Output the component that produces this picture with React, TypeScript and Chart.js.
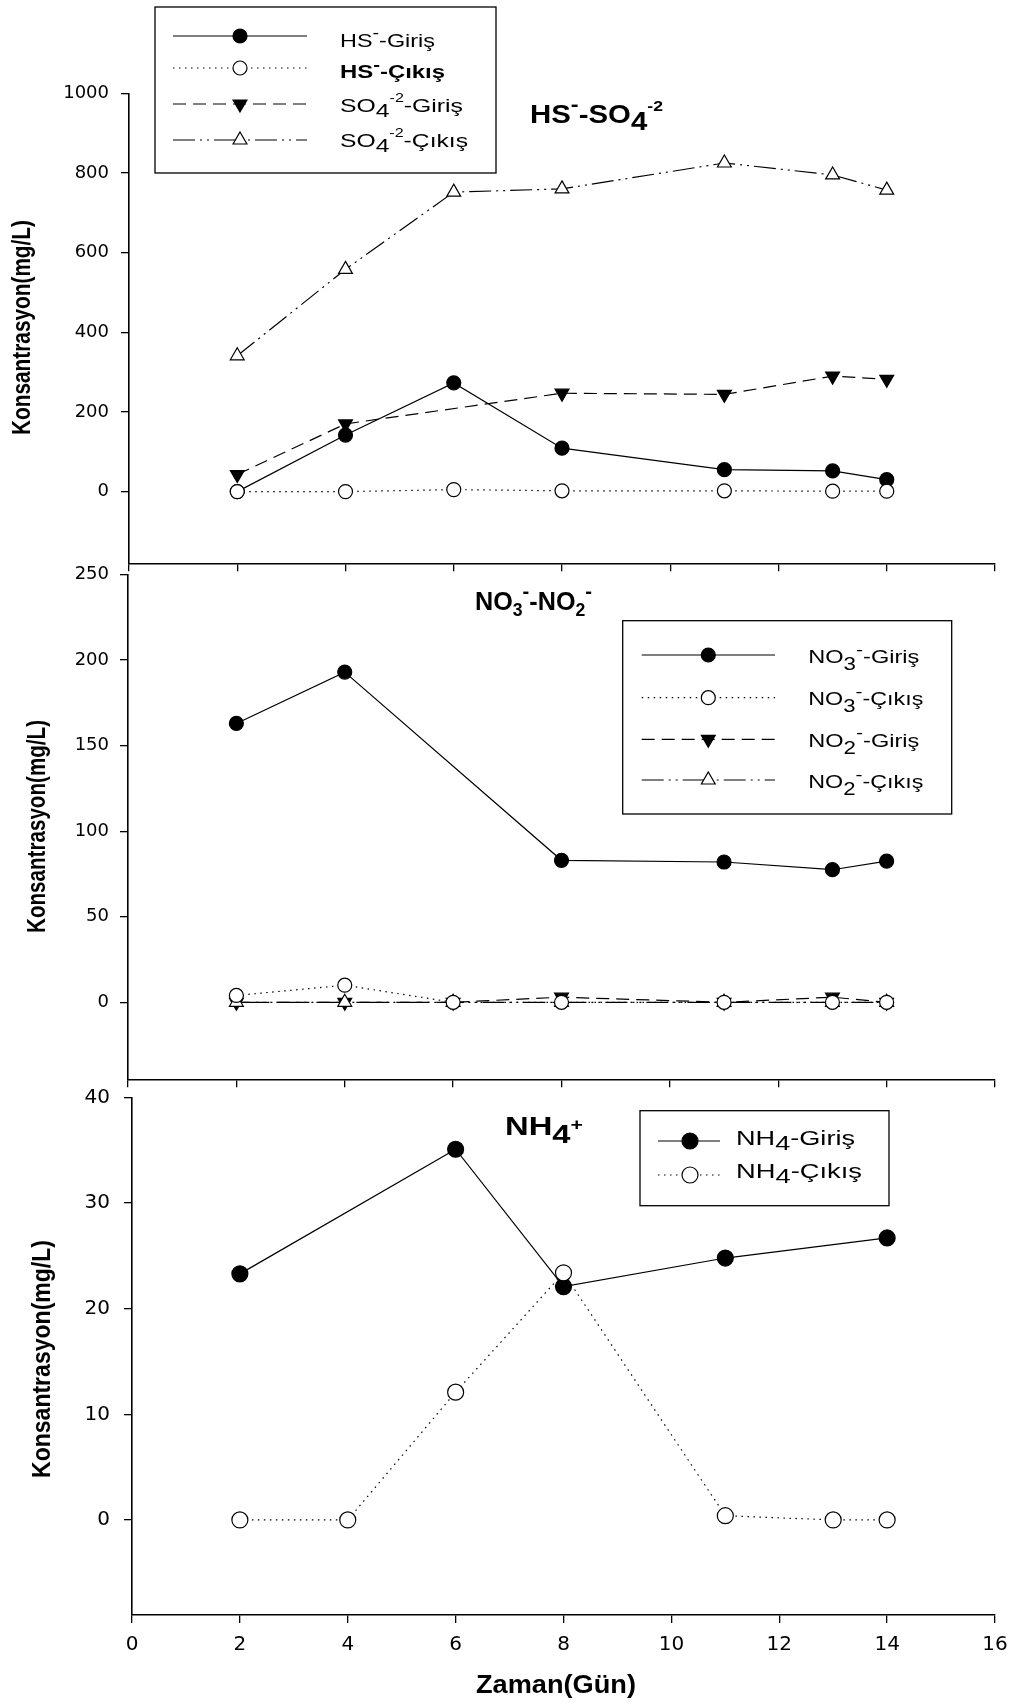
import React, { useEffect, useRef } from 'react';
import { Chart, registerables } from 'chart.js';

Chart.register(...registerables);

// ---------------- data ----------------
const days = [2, 4, 6, 8, 11, 13, 14];

const hsGiris = [0, 142, 273, 109, 55, 52, 30];
const hsCikis = [0, 0, 5, 2, 2, 1, 1];
const so4Giris: (number | null)[] = [43, 170, null, 247, 244, 290, 282];
const so4Cikis = [341, 558, 752, 760, 825, 795, 757];

const no3Giris: (number | null)[] = [163, 193, null, 83, 82, 77.5, 82.5];
const no3Cikis = [4, 10, 0, 0, 0, 0, 0];
const no2Giris = [0, 0, 0, 3, 0, 3, 0];
const no2Cikis = [0, 0, 0, 0, 0, 0, 0];

const nh4GirisDays = [2, 6, 8, 11, 14];
const nh4Giris = [23.3, 35.1, 22.1, 24.8, 26.7];
const nh4CikisDays = [2, 4, 6, 8, 11, 13, 14];
const nh4Cikis = [0, 0, 12.1, 23.4, 0.4, 0, 0];

const xTickValues = [0, 2, 4, 6, 8, 10, 12, 14, 16];
const hsTickValues = [0, 200, 400, 600, 800, 1000];
const noTickValues = [0, 50, 100, 150, 200, 250];
const nhTickValues = [0, 10, 20, 30, 40];

const hsRange = [-180, 1000];
const noRange = [-45, 250];
const nhRange = [-9, 40];

const yTitle = 'Konsantrasyon(mg/L)';
const xTitle = 'Zaman(Gün)';

type Seg = { t: string; s?: number; dy?: number };

const hsTitle: Seg[] = [{ t: 'HS' }, { t: '-', s: 0.8, dy: -0.46 }, { t: '-SO' }, { t: '4', dy: 0.28 }, { t: '-2', s: 0.6, dy: -0.45 }];
const noTitle: Seg[] = [{ t: 'NO' }, { t: '3', s: 0.7, dy: 0.25 }, { t: '-', s: 0.8, dy: -0.46 }, { t: '-NO' }, { t: '2', s: 0.7, dy: 0.25 }, { t: '-', s: 0.8, dy: -0.46 }];
const nhTitle: Seg[] = [{ t: 'NH' }, { t: '4', dy: 0.32 }, { t: '+', s: 0.65, dy: -0.22 }];

const hsLegend: Seg[][] = [
  [{ t: 'HS' }, { t: '-', s: 0.85, dy: -0.44 }, { t: '-Giriş' }],
  [{ t: 'HS' }, { t: '-', s: 0.85, dy: -0.44 }, { t: '-Çıkış' }],
  [{ t: 'SO' }, { t: '4', dy: 0.27 }, { t: '-2', s: 0.65, dy: -0.52 }, { t: '-Giriş' }],
  [{ t: 'SO' }, { t: '4', dy: 0.27 }, { t: '-2', s: 0.65, dy: -0.52 }, { t: '-Çıkış' }],
];
const noLegend: Seg[][] = [
  [{ t: 'NO' }, { t: '3', s: 0.95, dy: 0.39 }, { t: '-', s: 0.9, dy: -0.44 }, { t: '-Giriş' }],
  [{ t: 'NO' }, { t: '3', s: 0.95, dy: 0.39 }, { t: '-', s: 0.9, dy: -0.44 }, { t: '-Çıkış' }],
  [{ t: 'NO' }, { t: '2', s: 0.95, dy: 0.39 }, { t: '-', s: 0.9, dy: -0.44 }, { t: '-Giriş' }],
  [{ t: 'NO' }, { t: '2', s: 0.95, dy: 0.39 }, { t: '-', s: 0.9, dy: -0.44 }, { t: '-Çıkış' }],
];
const nhLegend: Seg[][] = [
  [{ t: 'NH' }, { t: '4', dy: 0.24 }, { t: '-Giriş' }],
  [{ t: 'NH' }, { t: '4', dy: 0.24 }, { t: '-Çıkış' }],
];

// ---------------- styles ----------------
type St = { shape: 'circle' | 'up' | 'down'; fill: string; dash: number[] };
const ST: Record<string, St> = {
  giris: { shape: 'circle', fill: '#000', dash: [] },
  cikis: { shape: 'circle', fill: '#fff', dash: [1.5, 4.5] },
  giris2: { shape: 'down', fill: '#000', dash: [13, 7] },
  cikis2: { shape: 'up', fill: '#fff', dash: [22, 5, 2, 5, 2, 5] },
};

const FAM = '"Liberation Sans", Arial, sans-serif';
const TICKFAM = '"DejaVu Sans", sans-serif';

function segFont(size: number, weight: string, s?: number) {
  return `${weight} ${size * (s ?? 1)}px ${FAM}`;
}

function drawRich(
  ctx: CanvasRenderingContext2D,
  segs: Seg[],
  x: number,
  y: number,
  size: number,
  opts: { weight?: string; width?: number; align?: 'left' | 'center'; rotate?: boolean } = {}
) {
  const weight = opts.weight ?? 'normal';
  ctx.save();
  let natural = 0;
  const widths = segs.map((sg) => {
    ctx.font = segFont(size, weight, sg.s);
    const w = ctx.measureText(sg.t).width;
    natural += w;
    return w;
  });
  const sx = opts.width ? opts.width / natural : 1;
  ctx.translate(x, y);
  if (opts.rotate) ctx.rotate(-Math.PI / 2);
  ctx.scale(sx, 1);
  let cx = opts.align === 'center' ? -natural / 2 : 0;
  ctx.fillStyle = '#000';
  ctx.textBaseline = 'alphabetic';
  ctx.textAlign = 'left';
  segs.forEach((sg, i) => {
    ctx.font = segFont(size, weight, sg.s);
    ctx.fillText(sg.t, cx, (sg.dy ?? 0) * size);
    cx += widths[i];
  });
  ctx.restore();
}

function drawMarker(ctx: CanvasRenderingContext2D, st: St, x: number, y: number, r: number) {
  ctx.beginPath();
  if (st.shape === 'circle') {
    ctx.arc(x, y, r, 0, Math.PI * 2);
  } else {
    const d = st.shape === 'down' ? -1 : 1;
    ctx.moveTo(x, y - d * r);
    ctx.lineTo(x + 0.866 * r, y + d * 0.5 * r);
    ctx.lineTo(x - 0.866 * r, y + d * 0.5 * r);
    ctx.closePath();
  }
  ctx.setLineDash([]);
  ctx.fillStyle = st.fill;
  ctx.fill();
  ctx.lineWidth = 1.2;
  ctx.strokeStyle = '#000';
  ctx.stroke();
}

function drawLegend(
  ctx: CanvasRenderingContext2D,
  box: [number, number, number, number],
  rows: { st: St; y: number; base: number; segs: Seg[]; width: number; weight?: string }[],
  line: [number, number, number],
  textX: number,
  size: number,
  circleR: number
) {
  ctx.save();
  ctx.setLineDash([]);
  ctx.lineWidth = 1.3;
  ctx.strokeStyle = '#000';
  ctx.strokeRect(box[0], box[1], box[2] - box[0], box[3] - box[1]);
  rows.forEach((r) => {
    ctx.beginPath();
    ctx.setLineDash(r.st.dash);
    ctx.lineWidth = 1.2;
    ctx.strokeStyle = '#000';
    ctx.moveTo(line[0], r.y);
    ctx.lineTo(line[1], r.y);
    ctx.stroke();
    drawMarker(ctx, r.st, line[2], r.y, r.st.shape === 'circle' ? circleR : 8);
    drawRich(ctx, r.segs, textX, r.base, size, { width: r.width, weight: r.weight });
  });
  ctx.restore();
}

function series(xs: number[], ys: (number | null)[], st: St, r: number, order: number) {
  return {
    data: xs.map((x, i) => ({ x, y: ys[i] })),
    borderColor: '#000',
    borderWidth: 1.2,
    borderDash: st.dash,
    pointStyle: st.shape === 'circle' ? 'circle' : 'triangle',
    pointRotation: st.shape === 'down' ? 180 : 0,
    pointRadius: st.shape === 'circle' ? r : 8,
    pointBackgroundColor: st.fill,
    pointBorderColor: '#000',
    pointBorderWidth: 1.2,
    spanGaps: true,
    tension: 0,
    fill: false,
    order,
  };
}

type PanelDef = {
  top: number;
  height: number;
  left: number;
  chartTop: number;
  xHeight: number;
  showX: boolean;
  range: number[];
  yTicks: number[];
  yFont: number;
  yPad: number;
  datasets: any[];
  overlay: (ctx: CanvasRenderingContext2D) => void;
};

function makeConfig(p: PanelDef): any {
  const gridOpts = { drawOnChartArea: false, drawTicks: true, tickLength: 8, color: '#000', lineWidth: 1.3 };
  const borderOpts = { display: true, color: '#000', width: 1.6 };
  return {
    type: 'line',
    data: { datasets: p.datasets },
    options: {
      responsive: false,
      animation: false,
      events: [],
      layout: { padding: { top: p.chartTop, right: 23, bottom: 0, left: 0 } },
      plugins: { legend: { display: false }, tooltip: { enabled: false }, title: { display: false } },
      scales: {
        x: {
          type: 'linear',
          min: 0,
          max: 16,
          afterBuildTicks: (a: any) => {
            a.ticks = xTickValues.map((v) => ({ value: v }));
          },
          afterFit: (s: any) => {
            s.height = p.xHeight;
            s.paddingLeft = 0;
            s.paddingRight = 0;
            s.paddingTop = 0;
            s.paddingBottom = 0;
          },
          grid: gridOpts,
          border: borderOpts,
          ticks: {
            display: p.showX,
            color: '#000',
            font: { family: TICKFAM, size: 20 },
            padding: 10,
            maxRotation: 0,
            autoSkip: false,
            callback: (v: any) => String(v),
          },
        },
        y: {
          type: 'linear',
          min: p.range[0],
          max: p.range[1],
          afterBuildTicks: (a: any) => {
            a.ticks = p.yTicks.map((v) => ({ value: v }));
          },
          afterFit: (s: any) => {
            s.width = p.left;
            s.paddingLeft = 0;
            s.paddingRight = 0;
            s.paddingTop = 0;
            s.paddingBottom = 0;
          },
          grid: gridOpts,
          border: borderOpts,
          ticks: {
            color: '#000',
            font: { family: TICKFAM, size: p.yFont },
            padding: p.yPad,
            autoSkip: false,
            callback: (v: any) => String(v),
          },
        },
      },
    },
    plugins: [
      {
        id: 'overlay' + p.top,
        afterDraw(chart: any) {
          const ctx = chart.ctx as CanvasRenderingContext2D;
          ctx.save();
          ctx.translate(0, -p.top);
          p.overlay(ctx);
          ctx.restore();
        },
      },
    ],
  };
}

const panels: PanelDef[] = [
  {
    top: 0,
    height: 575,
    left: 129,
    chartTop: 93.3,
    xHeight: 11.7,
    showX: false,
    range: hsRange,
    yTicks: hsTickValues,
    yFont: 18,
    yPad: 12,
    datasets: [
      series(days, hsGiris, ST.giris, 7, 2),
      series(days, hsCikis, ST.cikis, 7, 1),
      series(days, so4Giris, ST.giris2, 7, 3),
      series(days, so4Cikis, ST.cikis2, 7, 4),
    ],
    overlay: (ctx) => {
      drawRich(ctx, [{ t: yTitle }], 30, 327.5, 25, { weight: 'bold', width: 215, align: 'center', rotate: true });
      drawRich(ctx, hsTitle, 530, 122.7, 25, { weight: 'bold', width: 133 });
      drawLegend(
        ctx,
        [155, 7, 496, 173],
        [
          { st: ST.giris, y: 36, base: 46.5, segs: hsLegend[0], width: 95 },
          { st: ST.cikis, y: 68, base: 78, segs: hsLegend[1], width: 105, weight: 'bold' },
          { st: ST.giris2, y: 104, base: 111.5, segs: hsLegend[2], width: 123 },
          { st: ST.cikis2, y: 140, base: 146.5, segs: hsLegend[3], width: 128 },
        ],
        [173, 307, 240],
        340,
        19,
        7
      );
    },
  },
  {
    top: 556,
    height: 535,
    left: 128,
    chartTop: 18.6,
    xHeight: 11.7,
    showX: false,
    range: noRange,
    yTicks: noTickValues,
    yFont: 18,
    yPad: 11,
    datasets: [
      series(days, no3Giris, ST.giris, 7, 4),
      series(days, no3Cikis, ST.cikis, 7, 1),
      series(days, no2Giris, ST.giris2, 7, 3),
      series(days, no2Cikis, ST.cikis2, 7, 2),
    ],
    overlay: (ctx) => {
      drawRich(ctx, [{ t: yTitle }], 44.5, 826.5, 25, { weight: 'bold', width: 213, align: 'center', rotate: true });
      drawRich(ctx, noTitle, 475, 609.5, 25, { weight: 'bold', width: 117 });
      drawLegend(
        ctx,
        [622.7, 620.7, 951.7, 814],
        [
          { st: ST.giris, y: 655, base: 663, segs: noLegend[0], width: 111 },
          { st: ST.cikis, y: 697.7, base: 705, segs: noLegend[1], width: 115 },
          { st: ST.giris2, y: 739.3, base: 746.7, segs: noLegend[2], width: 111 },
          { st: ST.cikis2, y: 780, base: 788, segs: noLegend[3], width: 115 },
        ],
        [641.7, 775, 708.3],
        808.3,
        19,
        7
      );
    },
  },
  {
    top: 1076,
    height: 628,
    left: 132,
    chartTop: 21.5,
    xHeight: 89,
    showX: true,
    range: nhRange,
    yTicks: nhTickValues,
    yFont: 20,
    yPad: 14,
    datasets: [
      series(nh4GirisDays, nh4Giris, ST.giris, 8, 2),
      series(nh4CikisDays, nh4Cikis, ST.cikis, 8, 1),
    ],
    overlay: (ctx) => {
      drawRich(ctx, [{ t: yTitle }], 50, 1359, 26, { weight: 'bold', width: 238, align: 'center', rotate: true });
      drawRich(ctx, [{ t: xTitle }], 556, 1693, 25, { weight: 'bold', width: 160, align: 'center' });
      drawRich(ctx, nhTitle, 505, 1135, 25, { weight: 'bold', width: 78 });
      drawLegend(
        ctx,
        [640, 1110.7, 889, 1205.7],
        [
          { st: ST.giris, y: 1141, base: 1145, segs: nhLegend[0], width: 119 },
          { st: ST.cikis, y: 1175, base: 1178.3, segs: nhLegend[1], width: 126 },
        ],
        [658, 720, 690],
        736,
        21,
        8
      );
    },
  },
];

function Panel({ def }: { def: PanelDef }) {
  const ref = useRef<HTMLCanvasElement>(null);
  useEffect(() => {
    if (!ref.current) return;
    const chart = new Chart(ref.current, makeConfig(def));
    return () => chart.destroy();
  }, []);
  return (
    <canvas
      ref={ref}
      width={1018}
      height={def.height}
      style={{ position: 'absolute', left: 0, top: def.top, width: 1018, height: def.height, display: 'block' }}
    />
  );
}

export default function App() {
  return (
    <div style={{ position: 'absolute', left: 0, top: 0, width: 1018, height: 1704, background: '#fff', overflow: 'hidden' }}>
      {panels.map((p) => (
        <Panel key={p.top} def={p} />
      ))}
    </div>
  );
}
